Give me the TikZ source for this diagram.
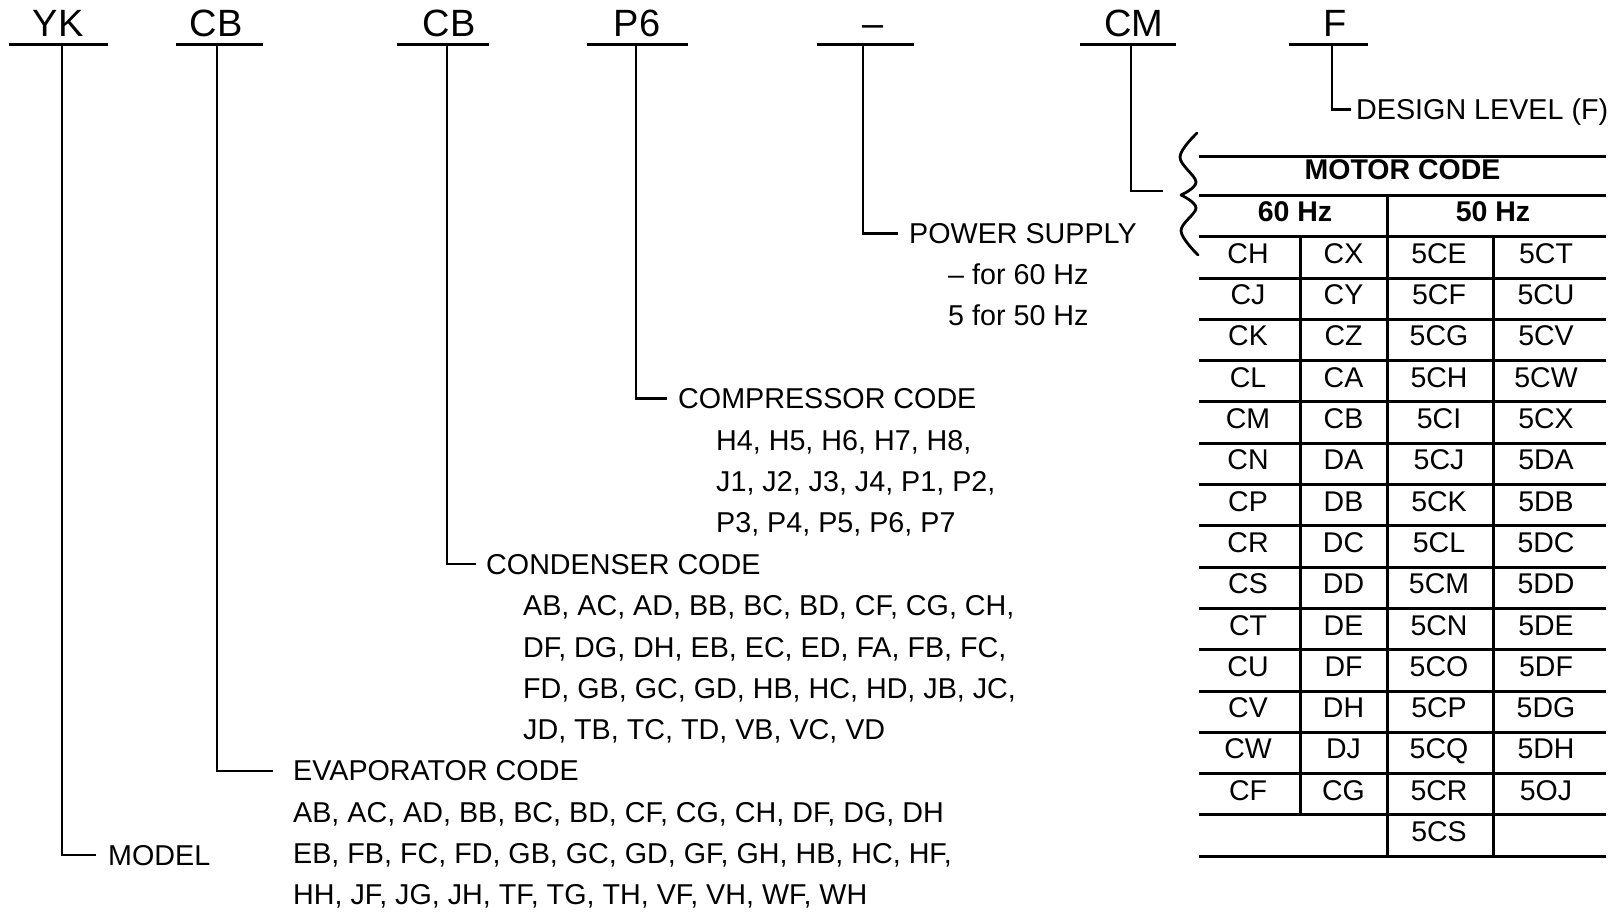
\documentclass[tikz,border=0pt]{standalone}
\usepackage{fontspec}
\setmainfont{Liberation Sans}
\begin{document}
\begin{tikzpicture}[x=1pt,y=-1pt,
  conn/.style={line width=2.4pt},
  tline/.style={line width=3pt},
  bracestyle/.style={line width=2.8pt, line cap=round},
  hdr/.style={inner sep=0pt, anchor=base, font=\fontsize{38}{44}\selectfont},
  lbl/.style={inner sep=0pt, anchor=base west, font=\fontsize{28.7}{34}\selectfont},
  cell/.style={inner sep=0pt, anchor=base, font=\fontsize{28.5}{34}\selectfont},
  bcell/.style={cell, font=\fontsize{28.5}{34}\selectfont\bfseries},
]
\useasboundingbox (0,0) rectangle (1619,911);

% ---------------- header codes ----------------
\node[hdr] (hYK) at (58,36) {YK};
\node[hdr] (hCB1) at (216,36) {CB};
\node[hdr] (hCB2) at (449,36) {CB};
\node[hdr] (hP6) at (637,36) {P6};
\node[hdr] (hDash) at (873,36) {–};
\node[hdr] (hCM) at (1134,36) {CM};
\node[hdr] (hF) at (1335,36) {F};

% underlines
\coordinate (uYKl) at (9,44.5);    \coordinate (uYKr) at (108,44.5);
\coordinate (uCB1l) at (176,44.5); \coordinate (uCB1r) at (263,44.5);
\coordinate (uCB2l) at (397,44.5); \coordinate (uCB2r) at (489,44.5);
\coordinate (uP6l) at (587,44.5);  \coordinate (uP6r) at (688,44.5);
\coordinate (uDl) at (817,44.5);   \coordinate (uDr) at (914,44.5);
\coordinate (uCMl) at (1080,44.5); \coordinate (uCMr) at (1176,44.5);
\coordinate (uFl) at (1289,44.5);  \coordinate (uFr) at (1368,44.5);
\foreach \n in {YK,CB1,CB2,P6,D,CM,F}
  \draw[conn] (u\n l) -- (u\n r);

% stems
\coordinate (sYK) at (62,44.5);
\coordinate (sCB1) at (217,44.5);
\coordinate (sCB2) at (447,44.5);
\coordinate (sP6) at (636,44.5);
\coordinate (sD) at (863,44.5);
\coordinate (sCM) at (1131,44.5);
\coordinate (sF) at (1332,44.5);

% ---------------- labels ----------------
\node[lbl] (model) at (108,865) {MODEL};
\coordinate (modelIn) at (96,855);

\node[lbl] (evap) at (293,780.7) {EVAPORATOR CODE};
\coordinate (evapIn) at (273,770.7);
\node[lbl] (evap1) at (293,822) {AB, AC, AD, BB, BC, BD, CF, CG, CH, DF, DG, DH};
\node[lbl] (evap2) at (293,863.3) {EB, FB, FC, FD, GB, GC, GD, GF, GH, HB, HC, HF,};
\node[lbl] (evap3) at (293,904.6) {HH, JF, JG, JH, TF, TG, TH, VF, VH, WF, WH};

\node[lbl] (cond) at (486,574.5) {CONDENSER CODE};
\coordinate (condIn) at (476,564);
\node[lbl] (cond1) at (523,615.8) {AB, AC, AD, BB, BC, BD, CF, CG, CH,};
\node[lbl] (cond2) at (523,657.1) {DF, DG, DH, EB, EC, ED, FA, FB, FC,};
\node[lbl] (cond3) at (523,698.4) {FD, GB, GC, GD, HB, HC, HD, JB, JC,};
\node[lbl] (cond4) at (523,739.7) {JD, TB, TC, TD, VB, VC, VD};

\node[lbl] (comp) at (678,408.7) {COMPRESSOR CODE};
\coordinate (compIn) at (667,398.3);
\node[lbl] (comp1) at (716,450) {H4, H5, H6, H7, H8,};
\node[lbl] (comp2) at (716,491.3) {J1, J2, J3, J4, P1, P2,};
\node[lbl] (comp3) at (716,532.6) {P3, P4, P5, P6, P7};

\node[lbl] (pow) at (909,243) {POWER SUPPLY};
\coordinate (powIn) at (898,233.3);
\node[lbl] (pow1) at (948,284.3) {– for 60 Hz};
\node[lbl] (pow2) at (948,325.6) {5 for 50 Hz};

\node[lbl] (des) at (1356,119.5) {DESIGN LEVEL (F)};
\coordinate (desIn) at (1351,109.5);

\coordinate (braceIn) at (1163,190.7);

% connectors
\draw[conn] (sYK) |- (modelIn);
\draw[conn] (sCB1) |- (evapIn);
\draw[conn] (sCB2) |- (condIn);
\draw[conn] (sP6) |- (compIn);
\draw[conn] (sD) |- (powIn);
\draw[conn] (sCM) |- (braceIn);
\draw[conn] (sF) |- (desIn);

% ---------------- brace ----------------
\draw[bracestyle] plot[smooth, tension=0.6] coordinates
  {(1197,133) (1180,157) (1196,182) (1181,195)};
\draw[bracestyle] plot[smooth, tension=0.6] coordinates
  {(1181,195) (1196,208) (1181,231) (1198,255)};

% ---------------- table ----------------
\draw[tline] (1199,156) -- (1606,156);
\draw[tline] (1199,195) -- (1606,195);
\foreach \k in {0,...,15}
  \draw[tline] (1199,{236.7+41.3*\k}) -- (1606,{236.7+41.3*\k});
\draw[tline] (1387,195) -- (1387,856.2);
\draw[tline] (1493,236.7) -- (1493,856.2);
\draw[tline] (1300,236.7) -- (1300,815.7);

\node[bcell] (tmc) at (1402.5,179.5) {MOTOR CODE};
\node[bcell] (t60) at (1295,221) {60 Hz};
\node[bcell] (t50) at (1493,221) {50 Hz};

\foreach \a/\b/\c/\d [count=\r from 0] in {
  CH/CX/5CE/5CT, CJ/CY/5CF/5CU, CK/CZ/5CG/5CV, CL/CA/5CH/5CW,
  CM/CB/5CI/5CX, CN/DA/5CJ/5DA, CP/DB/5CK/5DB, CR/DC/5CL/5DC,
  CS/DD/5CM/5DD, CT/DE/5CN/5DE, CU/DF/5CO/5DF, CV/DH/5CP/5DG,
  CW/DJ/5CQ/5DH, CF/CG/5CR/5OJ} {
  \pgfmathsetmacro\yb{263.35+41.3*\r}
  \node[cell] (ca\r) at (1248,\yb) {\a};
  \node[cell] (cb\r) at (1343.5,\yb) {\b};
  \node[cell] (cc\r) at (1439,\yb) {\c};
  \node[cell] (cd\r) at (1546,\yb) {\d};
}
\node[cell] (cc14) at (1439,841.55) {5CS};

\end{tikzpicture}
\end{document}
